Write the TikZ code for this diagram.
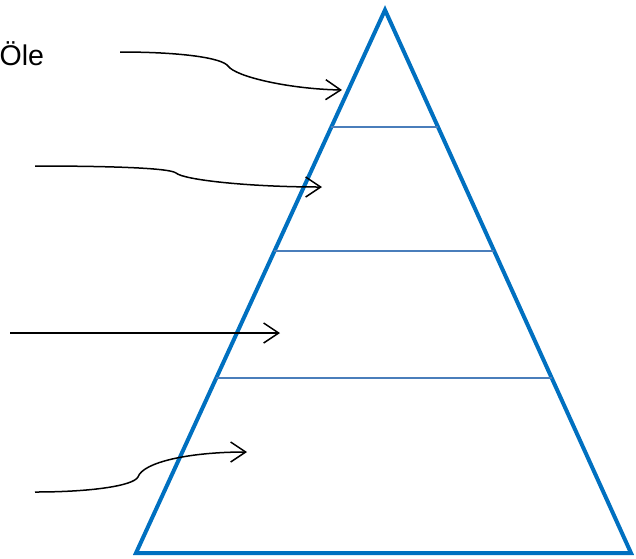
\documentclass[tikz,border=0pt]{standalone}
\usepackage{fontspec}
\setmainfont{Liberation Sans}
\usetikzlibrary{arrows.meta,calc}
\definecolor{tri}{RGB}{0,112,192}
\definecolor{band}{RGB}{74,126,187}
\begin{document}
\begin{tikzpicture}[x=1pt,y=-1pt,
  edge/.style={draw=tri,line width=4pt,line join=miter},
  divider/.style={draw=band,line width=1.6pt},
  pointer/.style={draw=black,line width=1.5pt,-{Straight Barb[length=15pt,width=20pt,line width=1.5pt]}}]
\useasboundingbox (0,0) rectangle (636,558);
\coordinate (A) at (385,10);
\coordinate (L) at (136,553);
\coordinate (R) at (631,553);
\draw[edge] (A) -- (L) -- (R) -- cycle;
\foreach \t/\n in {0.2155/1,0.4438/2,0.6777/3}{
  \coordinate (l\n) at ($(A)!\t!(L)$);
  \coordinate (r\n) at ($(A)!\t!(R)$);
  \draw[divider] (l\n) -- (r\n);
}
\node[anchor=base west,inner sep=0pt,font=\fontsize{28.5}{32}\selectfont] (label) at (-0.5,65) {Öle};
\coordinate (s1) at (120,52);
\coordinate (e1) at (342,90);
\coordinate (s2) at (35,166);
\coordinate (e2) at (322,187);
\coordinate (s3) at (10,333);
\coordinate (e3) at (280,333);
\coordinate (s4) at (35,492);
\coordinate (e4) at (247,452);
\draw[pointer] (s1) .. controls (182,52) and (222,58) .. (228,66) .. controls (236,77) and (290,89) .. (e1);
\draw[pointer] (s2) .. controls (110,166) and (170,168) .. (176,173) .. controls (184,180) and (250,187) .. (e2);
\draw[pointer] (s3) -- (e3);
\draw[pointer] (s4) .. controls (90,492) and (133,486) .. (138,477) .. controls (143,462) and (190,452) .. (e4);
\end{tikzpicture}
\end{document}
